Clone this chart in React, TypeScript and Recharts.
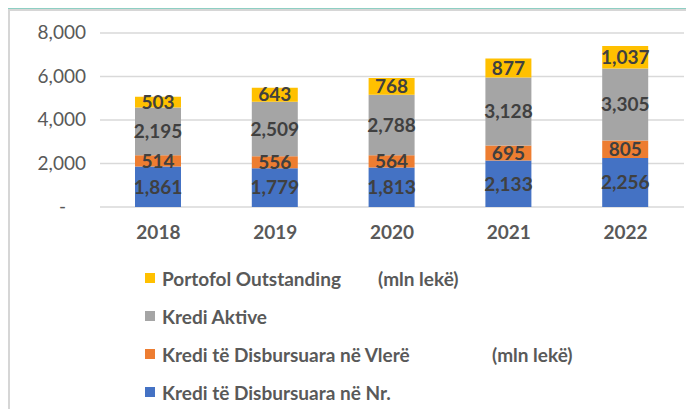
import React from 'react';
import { BarChart, Bar, XAxis, YAxis, CartesianGrid, LabelList, Legend } from 'recharts';

const years = ['2018', '2019', '2020', '2021', '2022'];
const krediNr = [1861, 1779, 1813, 2133, 2256];
const krediVlere = [514, 556, 564, 695, 805];
const krediAktive = [2195, 2509, 2788, 3128, 3305];
const portofol = [503, 643, 768, 877, 1037];
const yTicks = [0, 2000, 4000, 6000, 8000];

const seriesNames = {
    krediNr: 'Kredi të Disbursuara në Nr.',
    krediVlere: 'Kredi të Disbursuara në Vlerë',
    krediAktive: 'Kredi Aktive',
    portofol: 'Portofol Outstanding',
};
const units = {
    krediVlere: '(mln lekë)',
    portofol: '(mln lekë)',
};

const FONT = 'Lato, "Open Sans", sans-serif';

export default function App() {
    const data = years.map((year, i) => ({
        year,
        krediNr: krediNr[i],
        krediVlere: krediVlere[i],
        krediAktive: krediAktive[i],
        portofol: portofol[i],
    }));

    const series = [
        { key: 'krediNr', color: '#4472C4' },
        { key: 'krediVlere', color: '#ED7D31' },
        { key: 'krediAktive', color: '#A5A5A5' },
        { key: 'portofol', color: '#FFC000' },
    ];

    // legend rows are listed top-down, reverse of the stack
    const unitOffset: Record<string, number> = { portofol: 233, krediVlere: 347 };

    const renderLegend = () => (
        <div style={{ fontFamily: FONT, fontWeight: 700, fontSize: 19, color: '#595959' }}>
            {[...series].reverse().map(s => (
                <div key={s.key} style={{ position: 'relative', height: 38, display: 'flex', alignItems: 'center' }}>
                    <span style={{ width: 10, height: 10, background: s.color, display: 'inline-block', marginRight: 7 }} />
                    <span>{seriesNames[s.key as keyof typeof seriesNames]}</span>
                    {units[s.key as keyof typeof units] && (
                        <span style={{ position: 'absolute', left: unitOffset[s.key] }}>
                            {units[s.key as keyof typeof units]}
                        </span>
                    )}
                </div>
            ))}
        </div>
    );

    const YTick = ({ x, y, payload }: any) => (
        <text
            x={payload.value === 0 ? x - 34 : x - 14}
            y={y}
            dy={6}
            textAnchor="end"
            fill="#595959"
            fontSize={19}
            fontFamily={FONT}
        >
            {payload.value === 0 ? '-' : payload.value.toLocaleString('en-US')}
        </text>
    );

    const XTick = ({ x, y, payload }: any) => (
        <text x={x} y={y + 32} textAnchor="middle" fill="#595959" fontSize={19} fontWeight={700} fontFamily={FONT}>
            {payload.value}
        </text>
    );

    return (
        <div style={{ position: 'relative', width: 694, height: 417, margin: -8, background: '#8ecfc3', overflow: 'hidden' }}>
            <div
                style={{
                    position: 'absolute', left: 7, top: 9, right: 0, bottom: 0,
                    background: '#ffffff', borderLeft: '3px solid #d6d6d6', borderTop: '2px solid #d6d6d6',
                }}
            />
            <div style={{ position: 'absolute', left: 0, top: 0 }}>
                <BarChart
                    width={694}
                    height={417}
                    data={data}
                    margin={{ top: 33, right: 10, bottom: 180, left: 10 }}
                    barSize={46}
                >
                    <CartesianGrid vertical={false} stroke="#d9d9d9" strokeWidth={1.5} />
                    <XAxis
                        dataKey="year"
                        axisLine={false}
                        tickLine={false}
                        tickSize={0}
                        tickMargin={0}
                        height={30}
                        tick={<XTick />}
                    />
                    <YAxis
                        domain={[0, 8000]}
                        ticks={yTicks}
                        axisLine={false}
                        tickLine={false}
                        tickSize={0}
                        tickMargin={0}
                        width={90}
                        tick={<YTick />}
                    />
                    <Legend
                        layout="horizontal"
                        verticalAlign="middle"
                        align="center"
                        content={renderLegend}
                        wrapperStyle={{ position: 'absolute', top: 259, left: 145, width: 520, height: 152 }}
                    />
                    {series.map(s => (
                        <Bar
                            key={s.key}
                            dataKey={s.key}
                            name={seriesNames[s.key as keyof typeof seriesNames]}
                            stackId="a"
                            fill={s.color}
                            isAnimationActive={false}
                        >
                            <LabelList
                                dataKey={s.key}
                                position="center"
                                formatter={(v: any) => Number(v).toLocaleString('en-US')}
                                fill="#404040"
                                fontSize={19}
                                fontWeight={700}
                                fontFamily={FONT}
                            />
                        </Bar>
                    ))}
                </BarChart>
            </div>
        </div>
    );
}
